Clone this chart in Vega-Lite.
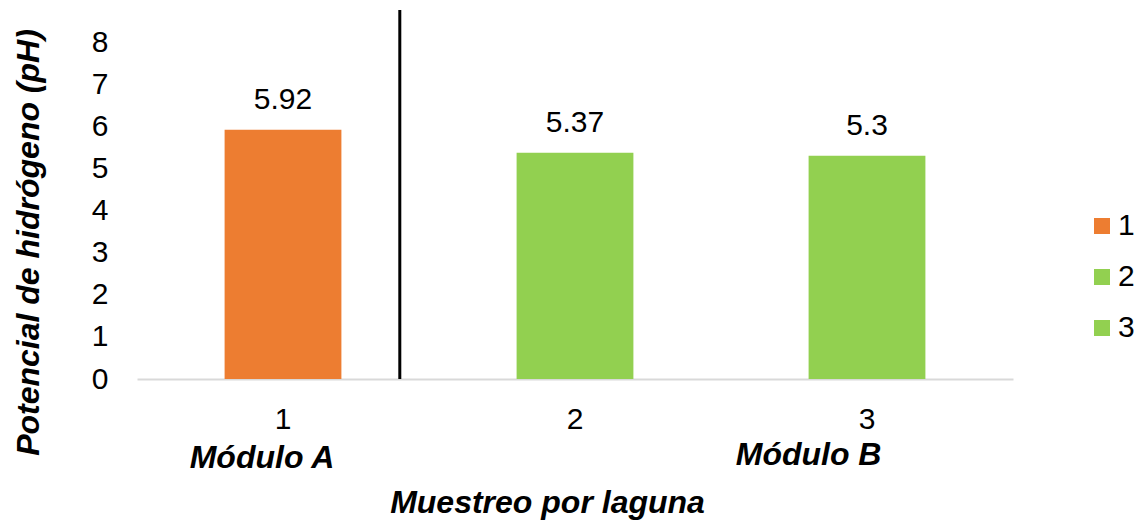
{
  "$schema": "https://vega.github.io/schema/vega-lite/v6.json",
  "width": 876,
  "height": 369,
  "autosize": {"type": "none"},
  "padding": {"left": 137, "top": 10, "right": 130, "bottom": 142},
  "background": "white",
  "config": {
    "view": {"stroke": null},
    "font": "Liberation Sans",
    "text": {"font": "Liberation Sans"}
  },
  "data": {
    "values": [
      {"laguna": "1", "ph": 5.92},
      {"laguna": "2", "ph": 5.37},
      {"laguna": "3", "ph": 5.3}
    ]
  },
  "encoding": {
    "x": {
      "field": "laguna",
      "type": "nominal",
      "sort": ["1", "2", "3"],
      "scale": {"paddingInner": 0.6, "paddingOuter": 0.3},
      "axis": {
        "title": "Muestreo por laguna",
        "titleFont": "Liberation Sans",
        "titleFontSize": 32,
        "titleFontWeight": "bold",
        "titleFontStyle": "italic",
        "titleColor": "#000000",
        "titleX": 410,
        "titleY": 133,
        "titleBaseline": "alphabetic",
        "titleAnchor": null,
        "labelAngle": 0,
        "labelFont": "Liberation Sans",
        "labelFontSize": 30,
        "labelColor": "#000000",
        "labelPadding": 25,
        "ticks": false,
        "domainColor": "#D9D9D9",
        "domainWidth": 2,
        "grid": false
      }
    }
  },
  "layer": [
    {
      "mark": {"type": "bar"},
      "encoding": {
        "y": {
          "field": "ph",
          "type": "quantitative",
          "scale": {"domain": [0, 8.76], "nice": false, "zero": true},
          "axis": {
            "title": "Potencial de hidrógeno (pH)",
            "titleFont": "Liberation Sans",
            "titleFontSize": 32,
            "titleFontWeight": "bold",
            "titleFontStyle": "italic",
            "titleColor": "#000000",
            "titleAngle": -90,
            "titleX": -109,
            "titleY": 232,
            "titleBaseline": "middle",
            "titleAlign": "center",
            "titleAnchor": null,
            "values": [0, 1, 2, 3, 4, 5, 6, 7, 8],
            "labelFont": "Liberation Sans",
            "labelFontSize": 30,
            "labelColor": "#000000",
            "labelPadding": 29,
            "ticks": false,
            "domain": false,
            "grid": false
          }
        },
        "color": {
          "field": "laguna",
          "type": "nominal",
          "scale": {"domain": ["1", "2", "3"], "range": ["#ED7D31", "#92D050", "#92D050"]},
          "legend": {
            "title": null,
            "orient": "none",
            "legendX": 950,
            "legendY": 201,
            "padding": 0,
            "symbolType": "square",
            "symbolSize": 256,
            "symbolStrokeWidth": 0,
            "symbolOpacity": 1,
            "labelFont": "Liberation Sans",
            "labelFontSize": 30,
            "labelColor": "#000000",
            "labelOffset": 1,
            "rowPadding": 21
          }
        }
      }
    },
    {
      "mark": {"type": "text", "fontSize": 30, "color": "#000000", "baseline": "middle", "dy": -30},
      "encoding": {
        "y": {"field": "ph", "type": "quantitative"},
        "text": {"field": "ph", "type": "quantitative", "format": ".2~f"}
      }
    },
    {
      "data": {"values": [{"laguna": "1"}]},
      "mark": {"type": "rule", "color": "#000000", "strokeWidth": 3},
      "encoding": {
        "x": {"field": "laguna", "type": "nominal", "bandPosition": 1.5}
      }
    },
    {
      "data": {"values": [{"laguna": "1", "modulo": "Módulo A"}]},
      "mark": {"type": "text", "fontSize": 32, "fontWeight": "bold", "fontStyle": "italic", "color": "#000000", "align": "center", "baseline": "alphabetic"},
      "encoding": {
        "x": {"field": "laguna", "type": "nominal", "bandPosition": 0.32},
        "y": {"datum": -2.11, "type": "quantitative"},
        "text": {"field": "modulo"}
      }
    },
    {
      "data": {"values": [{"laguna": "3", "modulo": "Módulo B"}]},
      "mark": {"type": "text", "fontSize": 32, "fontWeight": "bold", "fontStyle": "italic", "color": "#000000", "align": "center", "baseline": "alphabetic"},
      "encoding": {
        "x": {"field": "laguna", "type": "nominal", "bandPosition": 0},
        "y": {"datum": -2.04, "type": "quantitative"},
        "text": {"field": "modulo"}
      }
    }
  ]
}
